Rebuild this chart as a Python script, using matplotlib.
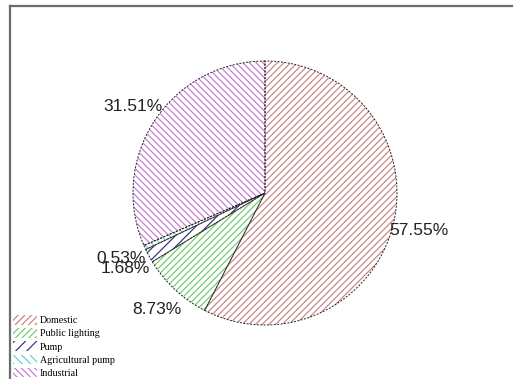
import matplotlib
matplotlib.use("Agg")
import matplotlib.pyplot as plt
from matplotlib.lines import Line2D

categories = ["Domestic", "Public lighting", "Pump", "Agricultural pump", "Industrial"]
shares = [57.55, 8.73, 1.68, 0.53, 31.51]
hatch_colors = ["#c98282", "#6ccc6c", "#2e327a", "#6acccc", "#c47ad2"]
hatches = ["/////", "/////", "///", "\\\\\\\\", "\\\\\\\\\\"]

plt.rcParams["hatch.linewidth"] = 0.85

fig = plt.figure(figsize=(5.14, 3.79), dpi=100)
ax = fig.add_axes([133/514, 54/379, 264/514, 264/379])

wedges, texts, autotexts = ax.pie(
    shares, startangle=90, counterclock=False,
    colors=["white"] * len(shares), autopct="%.2f%%", pctdistance=1.2,
    wedgeprops=dict(linewidth=0),
    textprops=dict(fontsize=12.5, family="Liberation Sans", color="#222222"),
)
for w, c, h in zip(wedges, hatch_colors, hatches):
    w.set_hatch(h)
    w.set_edgecolor(c)
    w.set_linewidth(0)

# dashed outlines
outline, _ = ax.pie(shares, startangle=90, counterclock=False,
                    colors=["none"] * len(shares),
                    wedgeprops=dict(linewidth=0.7, edgecolor="#222222",
                                    linestyle=(0, (2, 1.5)), fill=False))
ax.set_xlim(-1, 1)
ax.set_ylim(-1, 1)
ax.set_aspect("equal")
ax.axis("off")

leg = fig.legend(wedges, categories, loc="lower left",
                 bbox_to_anchor=(12/514, 0.0), frameon=False,
                 prop=dict(family="Liberation Serif", size=7.2),
                 handlelength=2.4, handleheight=1.1, labelspacing=0.3,
                 handletextpad=0.3, borderpad=0.1, borderaxespad=0)

# figure frame (top and left rules)
fig.add_artist(Line2D([10/514, 512/514], [1 - 6/379, 1 - 6/379],
                      transform=fig.transFigure, color="#6b6b6b", linewidth=1.6))
fig.add_artist(Line2D([10/514, 10/514], [0, 1 - 6/379],
                      transform=fig.transFigure, color="#6b6b6b", linewidth=1.6))

fig.savefig("out.png", dpi=100, facecolor="white")
